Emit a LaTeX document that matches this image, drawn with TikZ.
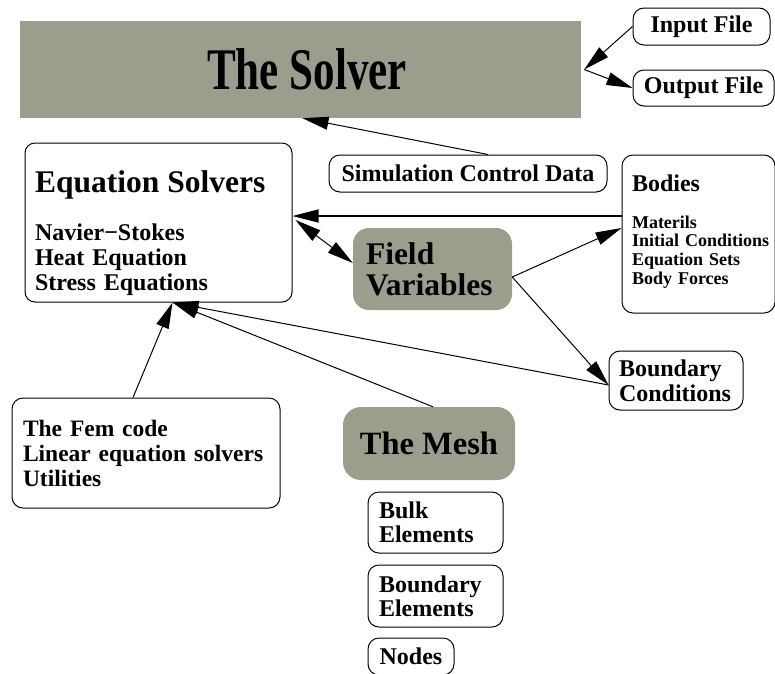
\documentclass[tikz,border=0pt]{standalone}
\usepackage{fontspec}
\setmainfont{Liberation Serif}
\newfontfamily\solverfont[FakeStretch=0.73]{Liberation Serif}
\usetikzlibrary{arrows.meta}
\definecolor{meshgray}{RGB}{157,157,142}

\begin{document}
\begin{tikzpicture}[x=1pt, y=-1pt,
		every node/.style={font=\fontsize{24}{25}\selectfont\bfseries, inner sep=0pt},
		box/.style={draw, line width=1pt, rounded corners=11pt},
		graybox/.style={fill=meshgray, rounded corners=16pt},
		arr/.style={-{Triangle[length=26pt, width=13pt]}, line width=1pt},
		darr/.style={{Triangle[length=26pt, width=13pt]}-{Triangle[length=26pt, width=13pt]}, line width=1pt}]
	\clip (0,0) rectangle (775,673);

	\node[fill=meshgray, minimum width=561pt, minimum height=97pt,
		font=\solverfont\fontsize{59}{60}\selectfont\bfseries] (solver) at (300.5,69.5) {\hspace{13pt}The Solver};
	\node[box, minimum width=137pt, minimum height=37pt] (input) at (701.5,26.5) {Input File};
	\node[box, minimum width=141pt, minimum height=36pt] (output) at (703.5,88) {Output File};
	\node[box, minimum width=278pt, minimum height=37pt] (simctrl) at (468,173.5) {Simulation Control Data};

	\node[box, rounded corners=10pt, minimum height=159pt, inner xsep=10pt, text width=247pt, align=left]
		(eqs) at (158.5,222.5) {\rule{0pt}{44pt}{\fontsize{31.5}{33}\selectfont Equation Solvers}\\[23pt]
		Navier−Stokes\\ Heat Equation\\ Stress Equations};
	\node[graybox, minimum height=82pt, inner xsep=13pt, text width=133pt, align=left,
		font=\fontsize{31.5}{31}\selectfont\bfseries] (field) at (432.5,269) {Field\\ Variables};
	\node[box, minimum height=158pt, inner xsep=10pt, text width=133pt, align=left,
		font=\fontsize{18}{18.7}\selectfont\bfseries] (bodies) at (698.5,234)
		{{\fontsize{24}{25}\selectfont Bodies}\\[17.8pt] Materils\\ \mbox{Initial Conditions}\\ Equation Sets\\
		Body Forces\rule[-9pt]{0pt}{9pt}};
	\node[box, minimum height=59pt, inner xsep=10pt, text width=114pt, align=left] (bc) at (676,380.5)
		{Boundary\\ Conditions};

	\node[box, minimum height=110pt, inner xsep=11pt, text width=246pt, align=left,
		font=\fontsize{23.5}{25}\selectfont\bfseries] (fem) at (146,453)
		{The Fem code\\ \mbox{Linear equation solvers}\\ Utilities};
	\node[graybox, rounded corners=18pt, minimum width=172pt, minimum height=73pt,
		font=\fontsize{32.5}{34}\selectfont\bfseries] (mesh) at (429,443.5) {The Mesh};
	\node[box, minimum height=61pt, inner xsep=11pt, text width=113pt, align=left,
		font=\fontsize{24}{24}\selectfont\bfseries] (bulk) at (435.5,522.5) {Bulk\\ Elements};
	\node[box, minimum height=62pt, inner xsep=11pt, text width=113pt, align=left,
		font=\fontsize{24}{24}\selectfont\bfseries] (bndelem) at (435.5,596) {Boundary\\ Elements};
	\node[box, minimum width=86pt, minimum height=37pt] (nodes) at (411,656.5) {Nodes};

	\coordinate (eqin) at ([xshift=14pt]eqs.south);

	\draw[arr] (input.west) -- ([xshift=3pt]solver.east);
	\draw[arr] ([xshift=3pt]solver.east) -- (output.west);
	\draw[arr] ([xshift=20pt]simctrl.north) -- ([xshift=2pt]solver.south);
	\draw[arr, line width=1.3pt] ([yshift=18pt]bodies.west) -- ([yshift=18pt]bodies.west -| eqs.east);
	\draw[darr] ([shift={(3pt,2.5pt)}]eqs.east) -- ([yshift=6pt]field.west);
	\draw[arr] ([yshift=-8pt]field.east) -- ([yshift=6pt]bodies.west);
	\draw[arr] ([yshift=-8pt]field.east) -- ([yshift=-4.5pt]bc.west);
	\draw[arr] ([yshift=-4.5pt]bc.west) -- (eqin);
	\draw[arr] ([xshift=4pt]mesh.north) -- (eqin);
	\draw[arr] ([xshift=-13pt]fem.north) -- (eqin);
\end{tikzpicture}
\end{document}
